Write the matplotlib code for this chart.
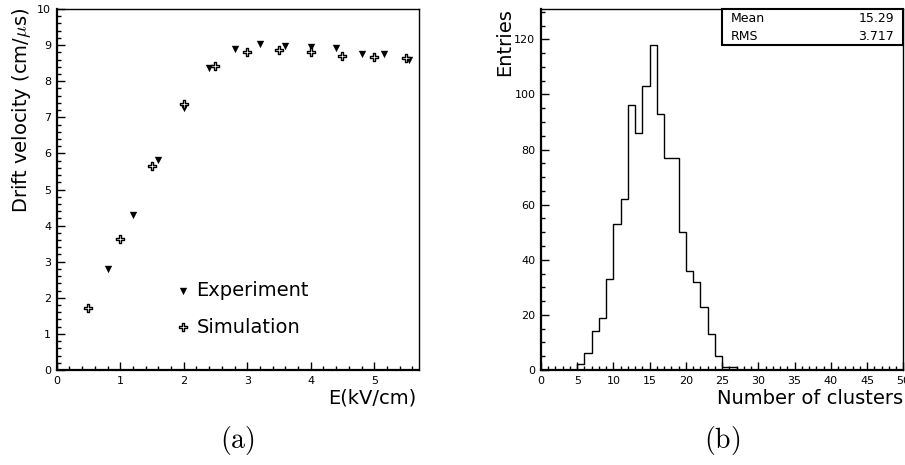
import numpy as np
import matplotlib
matplotlib.use("Agg")
import matplotlib.pyplot as plt
from matplotlib.ticker import MultipleLocator
from matplotlib.patches import Rectangle

plt.rcParams['font.family'] = ['DejaVu Sans']
plt.rcParams['mathtext.fontset'] = 'cm'

# ---- data panel (a) ----
exp_E = [0.8, 1.2, 1.6, 2.0, 2.4, 2.8, 3.2, 3.6, 4.0, 4.4, 4.8, 5.15, 5.55]
exp_v = [2.80, 4.30, 5.83, 7.27, 8.36, 8.88, 9.02, 8.98, 8.94, 8.93, 8.75, 8.74, 8.59]
sim_E = [0.5, 1.0, 1.5, 2.0, 2.5, 3.0, 3.5, 4.0, 4.5, 5.0, 5.5]
sim_v = [1.71, 3.63, 5.65, 7.36, 8.43, 8.81, 8.86, 8.82, 8.71, 8.66, 8.63]

# ---- data panel (b) ----
bin_edges = np.arange(0, 51, 1)
counts = [0, 0, 0, 0, 0, 2, 6, 14, 19, 33, 53, 62, 96, 86, 103, 118, 93, 77, 77, 50,
          36, 32, 23, 13, 5, 1, 1] + [0] * 23
mean_val = "15.29"
rms_val = "3.717"

fig = plt.figure(figsize=(9.05, 4.65), dpi=100)
W, H = 905, 465

def axrect(x0, x1, ytop, ybot):
    return [x0 / W, 1 - ybot / H, (x1 - x0) / W, (ybot - ytop) / H]

ax1 = fig.add_axes(axrect(56.7, 418.7, 9, 370))
ax2 = fig.add_axes(axrect(541, 903.3, 9, 370))

def style(ax):
    for s in ['left', 'bottom']:
        ax.spines[s].set_linewidth(1.6)
    for s in ['top', 'right']:
        ax.spines[s].set_linewidth(1.0)
    ax.tick_params(which='both', direction='in', top=False, right=False,
                   labelsize=8, width=1.0, color='black', pad=4)
    ax.tick_params(which='major', length=6)
    ax.tick_params(which='minor', length=3)

# Panel (a)
style(ax1)
ax1.scatter(exp_E, exp_v, marker='v', s=28, color='black', zorder=3, label='Experiment', linewidths=0)
ax1.scatter(sim_E, sim_v, marker='P', s=36, facecolor='white', edgecolor='black',
            linewidths=1.0, zorder=4, label='Simulation')
ax1.set_xlim(0, 5.7)
ax1.set_ylim(0, 10)
ax1.xaxis.set_major_locator(MultipleLocator(1))
ax1.xaxis.set_minor_locator(MultipleLocator(0.2))
ax1.yaxis.set_major_locator(MultipleLocator(1))
ax1.yaxis.set_minor_locator(MultipleLocator(0.2))
leg = ax1.legend(loc='upper left', bbox_to_anchor=(0.321, 0.247), frameon=False,
                 fontsize=14, handlelength=1.0, handletextpad=0.22, labelspacing=0.91,
                 borderpad=0, borderaxespad=0)
fig.text(10 / W, 1 - 8 / H, 'Drift velocity (cm/$\\mu$s)', rotation=90, ha='left', va='top', fontsize=14)
fig.text(416.7 / W, 1 - 398 / H, 'E(kV/cm)', ha='right', va='center', fontsize=14)

# Panel (b)
style(ax2)
ax2.stairs(counts, bin_edges, color='black', linewidth=1.0)
ax2.set_xlim(0, 50)
ax2.set_ylim(0, 131)
ax2.xaxis.set_major_locator(MultipleLocator(5))
ax2.xaxis.set_minor_locator(MultipleLocator(1))
ax2.yaxis.set_major_locator(MultipleLocator(20))
ax2.yaxis.set_minor_locator(MultipleLocator(5))
fig.text(495 / W, 1 - 8 / H, 'Entries', rotation=90, ha='left', va='top', fontsize=14)
fig.text(903 / W, 1 - 398 / H, 'Number of clusters', ha='right', va='center', fontsize=14)

# stats box
ax2.add_patch(Rectangle((0.4996, 0.90), 0.5004, 0.10, transform=ax2.transAxes,
                        facecolor='white', edgecolor='black', linewidth=1.5, zorder=5, clip_on=False))
ax2.text(0.525, 0.975, 'Mean', transform=ax2.transAxes, ha='left', va='center', fontsize=9, zorder=6)
ax2.text(0.975, 0.975, mean_val, transform=ax2.transAxes, ha='right', va='center', fontsize=9, zorder=6)
ax2.text(0.525, 0.925, 'RMS', transform=ax2.transAxes, ha='left', va='center', fontsize=9, zorder=6)
ax2.text(0.975, 0.925, rms_val, transform=ax2.transAxes, ha='right', va='center', fontsize=9, zorder=6)

# captions
fig.text(237.7 / W, 1 - 440 / H, r'$\mathrm{(a)}$', ha='center', va='center', fontsize=20)
fig.text(722 / W, 1 - 440 / H, r'$\mathrm{(b)}$', ha='center', va='center', fontsize=20)

fig.savefig('out.png', dpi=100)
